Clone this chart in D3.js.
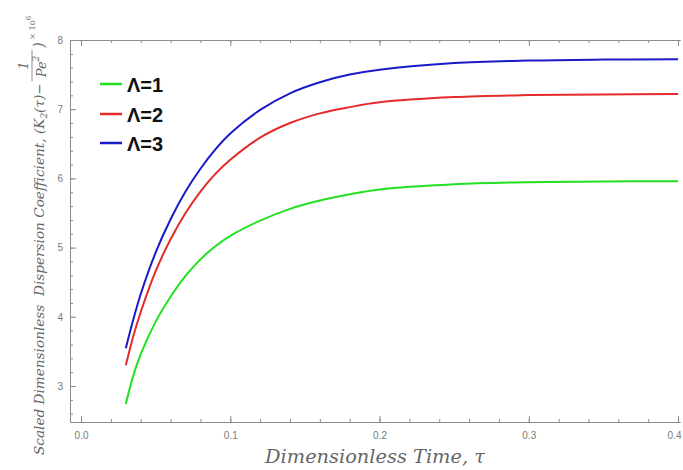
<!DOCTYPE html>
<html>
<head>
<meta charset="utf-8">
<script src="https://cdn.jsdelivr.net/npm/d3@7"></script>
<style>
  html, body { margin: 0; padding: 0; background: #fff; }
  svg { display: block; }
  .tick text { fill: #7a7a7a; font-family: "Liberation Sans", Arial, sans-serif; font-size: 10px; }
  .ylab text { fill: #666; font-family: "DejaVu Serif", serif; font-style: italic; white-space: pre; }
</style>
</head>
<body>
<svg id="chart" width="683" height="470"></svg>
<script>
// Dimensionless time samples
const tau = [0.03, 0.035, 0.04, 0.05, 0.06, 0.07, 0.08, 0.09, 0.10, 0.12, 0.14, 0.16, 0.18, 0.20, 0.25, 0.30, 0.35, 0.40];

// Scaled dispersion coefficient (K2(tau) - 1/Pe^2) x 10^6 for each Lambda
const lambda1 = [2.74, 3.15, 3.46, 3.93, 4.29, 4.59, 4.83, 5.02, 5.17, 5.39, 5.56, 5.68, 5.77, 5.84, 5.915, 5.945, 5.955, 5.96];
const lambda2 = [3.30, 3.72, 4.07, 4.66, 5.12, 5.50, 5.81, 6.065, 6.27, 6.59, 6.80, 6.94, 7.03, 7.10, 7.175, 7.204, 7.214, 7.218];
const lambda3 = [3.545, 3.96, 4.33, 4.93, 5.41, 5.81, 6.14, 6.42, 6.65, 6.99, 7.23, 7.39, 7.50, 7.57, 7.666, 7.703, 7.717, 7.722];

const seriesNames = ["\u039B=1", "\u039B=2", "\u039B=3"];
const seriesColors = ["#22e022", "#e52a2a", "#1a1ac8"];

// Axis ticks
const xMajor = [0.0, 0.1, 0.2, 0.3, 0.4];
const xMinor = d3.range(0, 0.401, 0.02);
const yMajor = [3, 4, 5, 6, 7, 8];
const yMinor = d3.range(2.6, 8.001, 0.2);

const svg = d3.select("#chart");
const plotLeft = 70, plotRight = 680, plotTop = 40, plotBottom = 422;

const x = d3.scaleLinear().domain([-0.0074, 0.4013]).range([plotLeft, plotRight]);
const y = d3.scaleLinear().domain([2.48, 8]).range([plotBottom, plotTop]);

const axisColor = "#8c8c8c";

function styleAxis(g) {
  g.select(".domain").attr("stroke", axisColor).attr("stroke-width", 1);
  g.selectAll(".tick line").attr("stroke", axisColor);
}

// Bottom frame: minor then major ticks (inward)
svg.append("g").attr("transform", `translate(0,${plotBottom})`)
  .call(d3.axisBottom(x).tickValues(xMinor).tickSize(-3).tickSizeOuter(0).tickFormat(""))
  .call(styleAxis);
const xAxisMajor = svg.append("g").attr("transform", `translate(0,${plotBottom})`)
  .call(d3.axisBottom(x).tickValues(xMajor).tickSize(-6).tickSizeOuter(0).tickPadding(10).tickFormat(d3.format(".1f")))
  .call(styleAxis);
// keep the last label inside the page
xAxisMajor.selectAll(".tick text").filter(d => d === 0.4).attr("dx", -4);

// Top frame
svg.append("g").attr("transform", `translate(0,${plotTop})`)
  .call(d3.axisTop(x).tickValues(xMinor).tickSize(-3).tickSizeOuter(0).tickFormat(""))
  .call(styleAxis);
svg.append("g").attr("transform", `translate(0,${plotTop})`)
  .call(d3.axisTop(x).tickValues(xMajor).tickSize(-6).tickSizeOuter(0).tickFormat(""))
  .call(styleAxis);

// Left frame
svg.append("g").attr("transform", `translate(${plotLeft},0)`)
  .call(d3.axisLeft(y).tickValues(yMinor).tickSize(-3).tickSizeOuter(0).tickFormat(""))
  .call(styleAxis);
svg.append("g").attr("transform", `translate(${plotLeft},0)`)
  .call(d3.axisLeft(y).tickValues(yMajor).tickSize(-6).tickSizeOuter(0).tickPadding(7).tickFormat(d3.format("d")))
  .call(styleAxis);

// Curves
const line = d3.line()
  .x((d, i) => x(tau[i]))
  .y(d => y(d))
  .curve(d3.curveCatmullRom.alpha(0.5));

[lambda1, lambda2, lambda3].forEach((vals, i) => {
  svg.append("path")
    .datum(vals)
    .attr("d", line)
    .attr("fill", "none")
    .attr("stroke", seriesColors[i])
    .attr("stroke-width", 2);
});

// Legend
const legendY = [84, 114, 143];
seriesNames.forEach((name, i) => {
  svg.append("line")
    .attr("x1", 100).attr("x2", 122)
    .attr("y1", legendY[i]).attr("y2", legendY[i])
    .attr("stroke", seriesColors[i]).attr("stroke-width", 2.5);
  svg.append("text")
    .attr("x", 127).attr("y", legendY[i] + 7.5)
    .attr("font-family", "'Liberation Sans', Arial, sans-serif")
    .attr("font-weight", "bold")
    .attr("font-size", 20)
    .attr("fill", "#111")
    .text(name);
});

// X axis title
const xt = svg.append("text")
  .attr("x", 375).attr("y", 463)
  .attr("text-anchor", "middle")
  .attr("font-family", "'DejaVu Serif', serif")
  .attr("font-style", "italic")
  .attr("font-size", 19)
  .attr("fill", "#666")
  .text("Dimensionless Time, \u03C4");
{
  const w = xt.node().getComputedTextLength();
  xt.attr("font-size", 19 * 220 / w);
}

// Y axis title, rotated, with stacked fraction 1/Pe^2
const yl = svg.append("g").attr("class", "ylab")
  .attr("transform", "translate(44,455) rotate(-90)");

const main = yl.append("text").attr("x", 0).attr("y", 0).attr("font-size", 14);
main.append("tspan").text("Scaled Dimensionless  Dispersion Coefficient, (K");
main.append("tspan").attr("font-size", 9).attr("dy", 3).text("2");
main.append("tspan").attr("dy", -3).text("(\u03C4)\u2212");
{
  const w = main.node().getComputedTextLength();
  main.attr("font-size", 14 * 372 / w);
}
const mainLen = main.node().getComputedTextLength();

const fx0 = mainLen + 2;
const den = yl.append("text").attr("x", fx0 + 4).attr("y", 2).attr("font-size", 13);
den.append("tspan").text("Pe");
den.append("tspan").attr("font-size", 9).attr("dy", -7).text("2");
const denLen = den.node().getComputedTextLength();
const barLen = denLen + 10;

yl.append("line")
  .attr("x1", fx0).attr("x2", fx0 + barLen)
  .attr("y1", -12).attr("y2", -12)
  .attr("stroke", "#777").attr("stroke-width", 0.8);

yl.append("text")
  .attr("x", fx0 + barLen / 2).attr("y", -16)
  .attr("text-anchor", "middle")
  .attr("font-size", 13)
  .text("1");

const tail = yl.append("text").attr("x", fx0 + barLen + 2).attr("y", 0).attr("font-size", 14);
tail.append("tspan").text(")");
tail.append("tspan").attr("font-size", 8).attr("font-style", "normal").attr("dy", -9).text(" \u00D7 10");
tail.append("tspan").attr("font-size", 7).attr("font-style", "normal").attr("dy", -4).text("6");
</script>
</body>
</html>
